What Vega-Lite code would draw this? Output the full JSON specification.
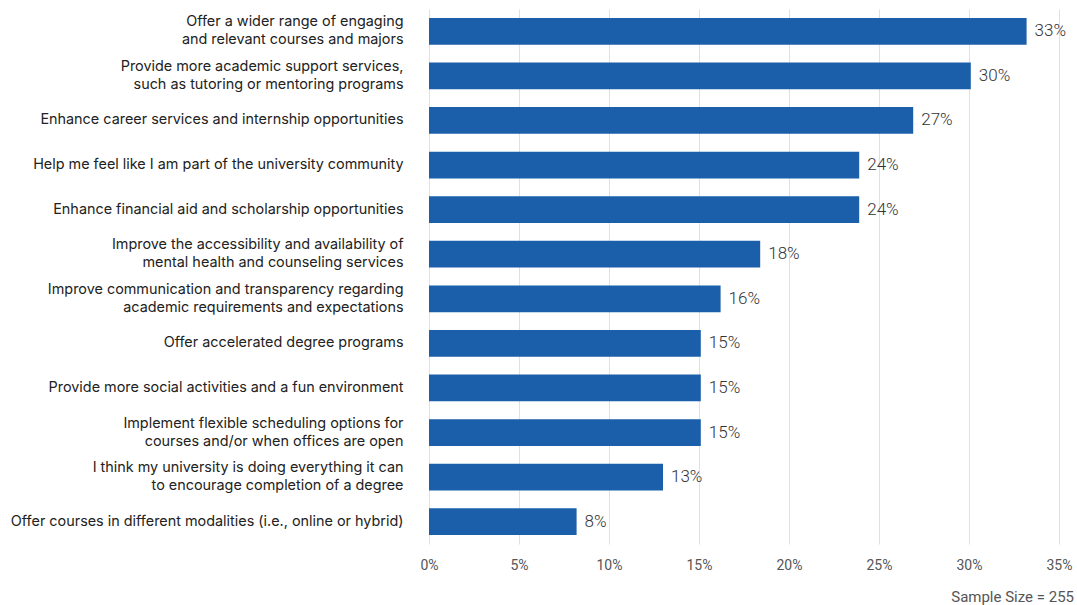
{
  "$schema": "https://vega.github.io/schema/vega-lite/v6.json",
  "width": 630,
  "height": 535,
  "padding": {"left": 10, "top": 9, "right": 18, "bottom": 4},
  "background": "white",
  "config": {"view": {"stroke": null}},
  "title": {
    "text": "Sample Size = 255",
    "orient": "bottom",
    "anchor": "end",
    "font": "Roboto",
    "fontSize": 15,
    "fontWeight": "normal",
    "color": "#555555",
    "offset": 18,
    "dx": 2
  },
  "data": {
    "values": [
      {"item": "Offer a wider range of engaging|and relevant courses and majors", "value": 0.332},
      {"item": "Provide more academic support services,|such as tutoring or mentoring programs", "value": 0.301},
      {"item": "Enhance career services and internship opportunities", "value": 0.269},
      {"item": "Help me feel like I am part of the university community", "value": 0.239},
      {"item": "Enhance financial aid and scholarship opportunities", "value": 0.239},
      {"item": "Improve the accessibility and availability of|mental health and counseling services", "value": 0.184},
      {"item": "Improve communication and transparency regarding|academic requirements and expectations", "value": 0.162},
      {"item": "Offer accelerated degree programs", "value": 0.151},
      {"item": "Provide more social activities and a fun environment", "value": 0.151},
      {"item": "Implement flexible scheduling options for|courses and/or when offices are open", "value": 0.151},
      {"item": "I think my university is doing everything it can|to encourage completion of a degree", "value": 0.130},
      {"item": "Offer courses in different modalities (i.e., online or hybrid)", "value": 0.082}
    ]
  },
  "encoding": {
    "y": {
      "field": "item",
      "type": "nominal",
      "sort": null,
      "scale": {"paddingInner": 0.4, "paddingOuter": 0.2},
      "axis": {
        "title": null,
        "domain": false,
        "ticks": false,
        "labelExpr": "split(datum.label, '|')",
        "labelOffset": {"condition": {"test": "indexof(datum.label, '|') >= 0", "value": -9}, "value": 0},
        "labelFont": "Inter",
        "labelFontSize": 14.4,
        "labelColor": "#222222",
        "labelPadding": 26,
        "labelLimit": 600,
        "labelLineHeight": 18
      }
    },
    "x": {
      "field": "value",
      "type": "quantitative",
      "scale": {"domain": [0, 0.35], "nice": false},
      "axis": {
        "title": null,
        "format": ".0%",
        "values": [0, 0.05, 0.1, 0.15, 0.2, 0.25, 0.3, 0.35],
        "domain": false,
        "ticks": false,
        "grid": true,
        "gridColor": "#e0e0e0",
        "gridWidth": 1,
        "labelFlush": false,
        "labelFont": "Roboto",
        "labelFontSize": 14,
        "labelColor": "#555555",
        "labelPadding": 14
      }
    }
  },
  "layer": [
    {"mark": {"type": "bar", "color": "#1B5FAA"}},
    {
      "mark": {"type": "text", "align": "left", "dx": 8, "font": "Roboto", "fontSize": 17, "fontWeight": 300, "color": "#333333"},
      "encoding": {"text": {"field": "value", "type": "quantitative", "format": ".0%"}}
    }
  ]
}
